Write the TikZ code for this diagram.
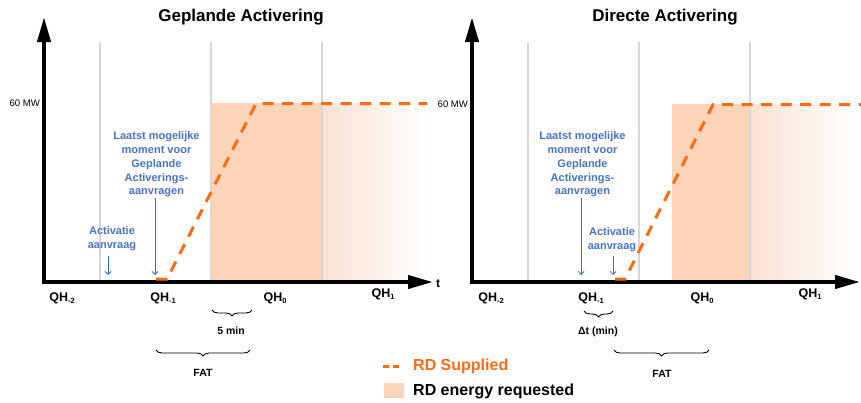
\documentclass[tikz,border=0pt]{standalone}
\usepackage{fontspec}
\setmainfont{Liberation Sans}
\usetikzlibrary{arrows.meta,decorations.pathreplacing}
\definecolor{rdorange}{RGB}{255,106,20}
\definecolor{rdfill}{RGB}{252,213,185}
\definecolor{rdfade}{RGB}{249,226,212}
\definecolor{gridgray}{RGB}{215,215,215}
\definecolor{bluetxt}{RGB}{72,114,196}
\definecolor{bluearr}{RGB}{46,117,182}
\newcommand\QHlab[1]{QH\raisebox{-0.35ex}{\fontsize{7.5}{8}\selectfont #1}}
\begin{document}
\begin{tikzpicture}[x=1pt,y=-1pt,
  axisline/.style={line width=4pt,-{Triangle[length=25pt,width=13pt]}},
  gridline/.style={gridgray,line width=2.6pt},
  supplied/.style={rdorange,line width=3pt,dash pattern=on 11pt off 8.5pt},
  bluearrow/.style={bluearr,line width=0.8pt,-{Straight Barb[length=3pt,width=6pt]}},
  bluelbl/.style={text=bluetxt,font=\fontsize{11}{13.8}\selectfont\bfseries,align=center,inner sep=0pt},
  titlelbl/.style={font=\fontsize{17}{19}\selectfont\bfseries,inner sep=0pt},
  qhlbl/.style={font=\fontsize{12.5}{14}\selectfont\bfseries,inner sep=0pt},
  smalllbl/.style={font=\fontsize{10.5}{12}\selectfont\bfseries,inner sep=0pt},
  mwlbl/.style={font=\fontsize{9.5}{11}\selectfont,inner sep=0pt,anchor=east},
  bracedeco/.style={decorate,decoration={brace,mirror,amplitude=6pt},line width=0.9pt},
  legendtxt/.style={font=\fontsize{16}{18}\selectfont\bfseries,inner sep=0pt,anchor=west}
]
\useasboundingbox (0,0) rectangle (861,402);

% ---------------- left panel ----------------
\fill[rdfill] (212,103) rectangle (322,282);
\shade[left color=rdfade,right color=white] (322,103) rectangle (427,282);
\foreach \gx in {100,211,322} \draw[gridline] (\gx,42) -- (\gx,282);
\coordinate (yL0) at (44,284);
\coordinate (yL1) at (44,17);
\coordinate (xL0) at (42,282);
\coordinate (xL1) at (433,282);
\draw[axisline] (yL0) -- (yL1);
\draw[axisline] (xL0) -- (xL1);
\node[titlelbl] (titleL) at (241,17) {Geplande Activering};
\node[mwlbl] (mwL) at (40,103) {60 MW};
\node[font=\fontsize{12}{14}\selectfont\bfseries,inner sep=0pt] (tL) at (438,284) {t};
\coordinate (sL0) at (156,279);
\coordinate (sL1) at (167,279);
\coordinate (sL2) at (256,103.5);
\coordinate (sL3) at (427,103.5);
\draw[supplied] (sL0) -- (sL1) -- (sL2) -- (sL3);
\node[bluelbl] (lastL) at (156.5,164.5) {Laatst mogelijke\\moment voor\\Geplande\\Activerings-\\aanvragen};
\coordinate (lastLa) at (155,198);
\coordinate (lastLb) at (155,275);
\draw[bluearrow] (lastLa) -- (lastLb);
\node[bluelbl] (actL) at (112,239) {Activatie\\aanvraag};
\coordinate (actLa) at (108,256);
\coordinate (actLb) at (108,275);
\draw[bluearrow] (actLa) -- (actLb);
\node[qhlbl] (qhLm2) at (62,298) {\QHlab{-2}};
\node[qhlbl] (qhLm1) at (163,298) {\QHlab{-1}};
\node[qhlbl] (qhL0) at (275,298) {\QHlab{0}};
\node[qhlbl] (qhL1) at (383,294) {\QHlab{1}};
\coordinate (b5a) at (212,310);
\coordinate (b5b) at (252,310);
\draw[bracedeco] (b5a) -- (b5b);
\node[smalllbl] (fivemin) at (231,331) {5 min};
\coordinate (bFLa) at (156,350);
\coordinate (bFLb) at (250,350);
\draw[bracedeco] (bFLa) -- (bFLb);
\node[smalllbl] (fatL) at (203,373) {FAT};

% ---------------- right panel ----------------
\fill[rdfill] (672,104) rectangle (750,282);
\shade[left color=rdfade,right color=white] (750,104) rectangle (855,282);
\foreach \gx in {528,639,750} \draw[gridline] (\gx,42) -- (\gx,284);
\coordinate (yR0) at (472,284);
\coordinate (yR1) at (472,17);
\coordinate (xR0) at (470,282);
\coordinate (xR1) at (860,282);
\draw[axisline] (yR0) -- (yR1);
\draw[axisline] (xR0) -- (xR1);
\node[titlelbl] (titleR) at (665,17) {Directe Activering};
\node[mwlbl] (mwR) at (468,104) {60 MW};
\coordinate (sR0) at (615,279);
\coordinate (sR1) at (625,279);
\coordinate (sR2) at (713,104.5);
\coordinate (sR3) at (861,104.5);
\draw[supplied] (sR0) -- (sR1) -- (sR2) -- (sR3);
\node[bluelbl] (lastR) at (582.5,164.5) {Laatst mogelijke\\moment voor\\Geplande\\Activerings-\\aanvragen};
\coordinate (lastRa) at (581,198);
\coordinate (lastRb) at (581,275);
\draw[bluearrow] (lastRa) -- (lastRb);
\node[bluelbl] (actR) at (612,240) {Activatie\\aanvraag};
\coordinate (actRa) at (613,256);
\coordinate (actRb) at (613,275);
\draw[bluearrow] (actRa) -- (actRb);
\node[qhlbl] (qhRm2) at (491,298) {\QHlab{-2}};
\node[qhlbl] (qhRm1) at (591,298) {\QHlab{-1}};
\node[qhlbl] (qhR0) at (702,298) {\QHlab{0}};
\node[qhlbl] (qhR1) at (810,294) {\QHlab{1}};
\coordinate (bDa) at (584,311);
\coordinate (bDb) at (613,311);
\draw[bracedeco] (bDa) -- (bDb);
\node[smalllbl] (dtlbl) at (598,332) {Δt (min)};
\coordinate (bFRa) at (614,350);
\coordinate (bFRb) at (709,350);
\draw[bracedeco] (bFRa) -- (bFRb);
\node[smalllbl] (fatR) at (662,374) {FAT};

% ---------------- legend ----------------
\coordinate (lg0) at (383,366);
\coordinate (lg1) at (400,366);
\draw[rdorange,line width=3pt,dash pattern=on 6pt off 4pt] (lg0) -- (lg1);
\node[legendtxt,text=rdorange] (legS) at (413,366) {RD Supplied};
\fill[rdfill] (384,383) rectangle (404,398);
\node[legendtxt] (legE) at (413,391) {RD energy requested};
\end{tikzpicture}
\end{document}
